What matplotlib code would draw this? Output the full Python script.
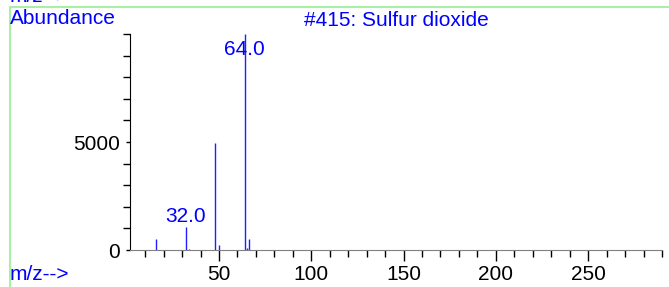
import matplotlib
matplotlib.use("Agg")
import matplotlib.pyplot as plt
from matplotlib.lines import Line2D
from matplotlib.ticker import MultipleLocator, FixedLocator

plt.rcParams['font.family'] = ['Liberation Sans', 'DejaVu Sans']

# spectrum data (m/z, abundance)
mz = [16, 32, 34, 48, 50, 64, 65, 66]
abundance = [520, 1050, 40, 4940, 230, 9999, 90, 495]
labeled = [32, 64]

title = "#415: Sulfur dioxide"
fs = 15

W, H = 669, 287
fig = plt.figure(figsize=(W / 100, H / 100), dpi=100)
ax = fig.add_axes([130 / W, 1 - 250 / H, 532 / W, 216 / H])

ax.vlines(mz, 0, abundance, color='#2020ff', lw=1)
for m, a in zip(mz, abundance):
    if m in labeled:
        ax.text(m, min(a + 250, 9030), "%.1f" % m, color='blue', fontsize=fs,
                ha='center', va='baseline')

ax.set_xlim(1.8, 290)
ax.set_ylim(0, 10000)
ax.xaxis.set_major_locator(MultipleLocator(50))
ax.xaxis.set_minor_locator(MultipleLocator(10))
ax.yaxis.set_major_locator(FixedLocator([0, 5000]))
ax.yaxis.set_minor_locator(MultipleLocator(1000))
for s in ['top', 'right']:
    ax.spines[s].set_visible(False)
ax.spines['bottom'].set_color('#808080')
ax.spines['left'].set_color('black')
ax.tick_params(which='major', width=1, labelsize=fs, color='black')
ax.tick_params(axis='x', which='major', length=8, pad=3)
ax.tick_params(axis='x', which='minor', length=5, width=1, color='black')
ax.tick_params(axis='y', which='major', length=3, pad=4)
ax.tick_params(axis='y', which='minor', length=5, width=1, color='black')

# green frame
gx = 9.5 / W
gy = 1 - 7 / H
fig.add_artist(Line2D([gx, gx], [0, gy], color='#a8f0a8', lw=1.5, transform=fig.transFigure))
fig.add_artist(Line2D([gx, 1], [gy, gy], color='#a8f0a8', lw=1.5, transform=fig.transFigure))

fig.text(10 / W, 1 - 18 / H, "Abundance", color='blue', fontsize=fs, va='center', ha='left')
fig.text(396 / W, 1 - 21 / H, title, color='blue', fontsize=fs, va='center', ha='center')
fig.text(10 / W, 1 - 275 / H, "m/z-->", color='blue', fontsize=fs, va='center', ha='left')
fig.text(10 / W, 1 + 3 / H, "m/z-->", color='blue', fontsize=fs, va='center', ha='left')

fig.savefig("out.png", dpi=100)
